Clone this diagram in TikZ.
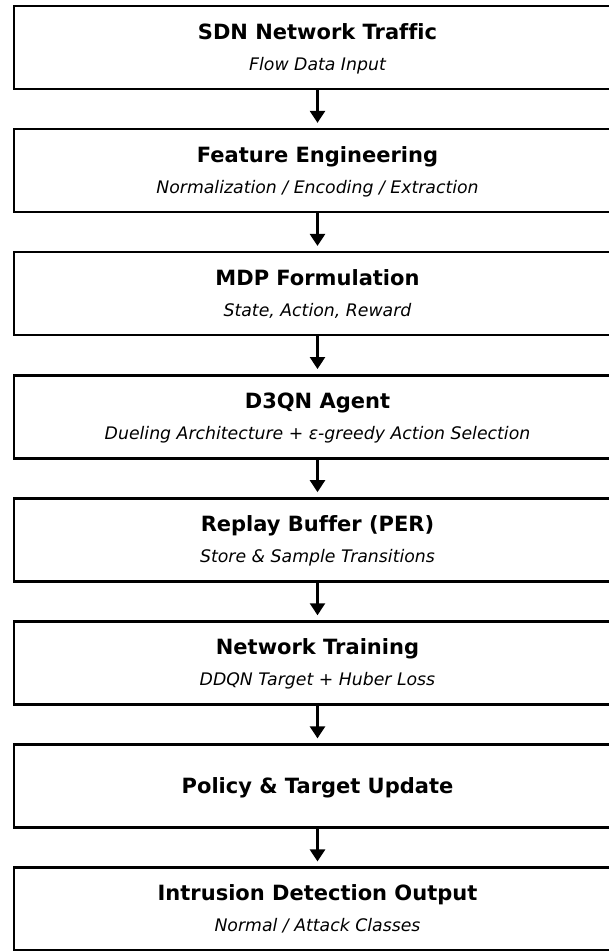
\documentclass[tikz,border=0pt]{standalone}
\usepackage{fontspec}
\setmainfont[Ligatures=NoCommon]{DejaVu Sans}
\usetikzlibrary{arrows.meta}

\begin{document}
\begin{tikzpicture}[x=1pt,y=1pt,
    stagebox/.style={draw=black, line width=2.5pt, fill=white,
        minimum width=607pt, minimum height=83pt, inner sep=0pt},
    stagetitle/.style={anchor=base, inner sep=0pt, font=\fontsize{21}{25}\selectfont\bfseries},
    stagesub/.style={anchor=base, inner sep=0pt, font=\fontsize{17.3}{21}\selectfont\itshape},
    flowarrow/.style={line width=2.5pt, -{Triangle[length=12pt,width=15pt]}, shorten >=5pt}]
    \useasboundingbox (0,0) rectangle (609,-951);
    \clip (0,0) rectangle (609,-951);

    % pipeline stages, top to bottom
    \foreach \ttl/\sub [count=\i from 0] in {
        SDN Network Traffic/Flow Data Input,
        Feature Engineering/{Normalization / Encoding / Extraction},
        MDP Formulation/{State, Action, Reward},
        D3QN Agent/Dueling Architecture + ε-greedy Action Selection,
        Replay Buffer (PER)/Store \& Sample Transitions,
        Network Training/DDQN Target + Huber Loss,
        Policy \& Target Update/{},
        Intrusion Detection Output/{Normal / Attack Classes}} {
        \pgfmathsetmacro\cy{-(47.5+123.1*\i)}
        \node[stagebox] (s\i) at (317.5,\cy) {};
        \ifx\sub\empty
            \node[stagetitle] (t\i) at (317.5,\cy-7) {\ttl};
        \else
            \node[stagetitle] (t\i) at (317.5,\cy+8.5) {\ttl};
            \node[stagesub] (u\i) at (317.5,\cy-22.5) {\sub};
        \fi
    }

    % arrows between consecutive stages
    \foreach \i in {0,...,6} {
        \pgfmathtruncatemacro\j{\i+1}
        \draw[flowarrow] (s\i.south) -- (s\j.north);
    }
\end{tikzpicture}
\end{document}
